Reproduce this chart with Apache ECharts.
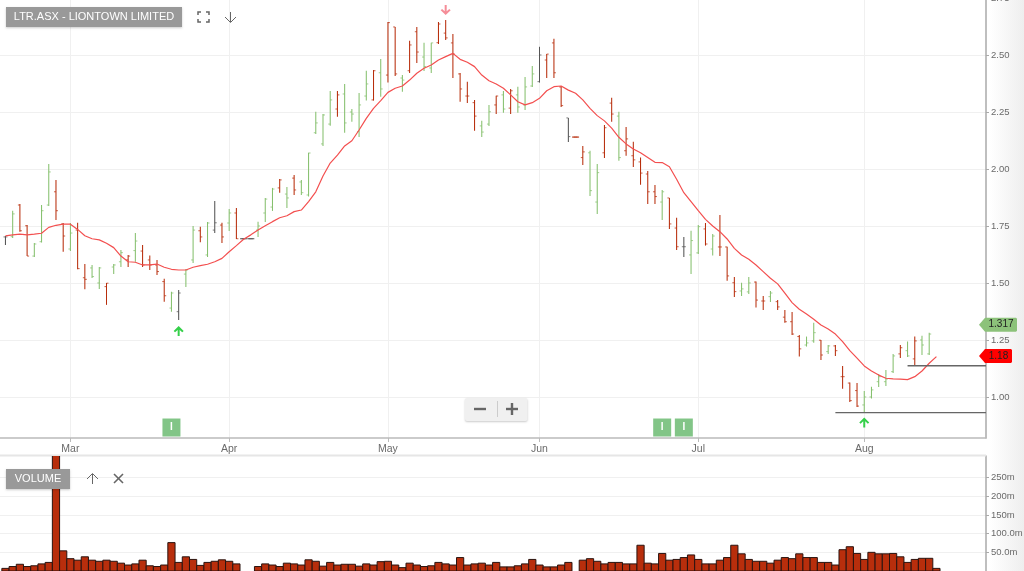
<!DOCTYPE html>
<html><head><meta charset="utf-8">
<style>html,body{margin:0;padding:0;background:#fff;overflow:hidden}#c{width:1024px;height:571px}</style>
<script src="https://cdn.jsdelivr.net/npm/echarts@6/dist/echarts.min.js"></script>
</head><body><div id="c"></div>
<script>
const opens=[1.702,1.703,1.842,1.751,1.618,1.681,1.842,1.900,1.759,1.649,1.732,1.523,1.566,1.500,1.484,1.570,1.593,1.601,1.642,1.640,1.601,1.579,1.506,1.390,1.374,1.539,1.601,1.729,1.623,1.732,1.754,1.763,1.807,1.694,1.694,1.732,1.807,1.833,1.917,1.890,1.960,1.943,1.886,2.159,2.110,2.197,2.263,2.329,2.250,2.164,2.320,2.303,2.422,2.412,2.623,2.399,2.431,2.602,2.491,2.443,2.554,2.596,2.553,2.417,2.320,2.291,2.189,2.197,2.281,2.325,2.267,2.325,2.281,2.364,2.383,2.478,2.553,2.360,2.224,2.140,2.050,2.071,1.855,2.071,2.289,2.232,2.080,2.058,2.031,1.978,1.900,1.855,1.873,1.741,1.659,1.623,1.632,1.737,1.649,1.658,1.658,1.501,1.465,1.461,1.504,1.421,1.440,1.418,1.350,1.330,1.265,1.228,1.246,1.249,1.199,1.224,1.089,1.061,1.028,0.965,1.000,1.067,1.067,1.111,1.189,1.203,1.167,1.250,1.189,1.291];
const highs=[1.706,1.817,1.846,1.754,1.675,1.842,2.022,1.952,1.763,1.763,1.764,1.583,1.579,1.570,1.500,1.583,1.645,1.623,1.719,1.667,1.620,1.601,1.519,1.462,1.469,1.561,1.750,1.747,1.768,1.860,1.764,1.825,1.829,1.694,1.694,1.769,1.873,1.917,1.956,1.921,1.974,1.952,2.071,2.251,2.241,2.342,2.342,2.373,2.263,2.333,2.431,2.434,2.482,2.645,2.623,2.412,2.563,2.623,2.554,2.554,2.645,2.653,2.592,2.421,2.383,2.303,2.212,2.281,2.321,2.342,2.351,2.361,2.403,2.452,2.536,2.504,2.571,2.364,2.224,2.140,2.101,2.080,2.022,2.193,2.313,2.251,2.184,2.120,2.050,1.991,1.930,1.908,1.873,1.786,1.702,1.729,1.754,1.763,1.715,1.798,1.659,1.526,1.501,1.526,1.506,1.443,1.465,1.425,1.382,1.373,1.272,1.265,1.325,1.250,1.228,1.228,1.136,1.063,1.061,1.026,1.045,1.101,1.118,1.189,1.228,1.243,1.265,1.268,1.282,1.325];
const lows=[1.667,1.697,1.725,1.618,1.614,1.677,1.838,1.776,1.637,1.640,1.560,1.472,1.522,1.474,1.404,1.539,1.570,1.570,1.593,1.570,1.557,1.535,1.418,1.374,1.338,1.482,1.588,1.679,1.614,1.719,1.675,1.728,1.693,1.694,1.694,1.702,1.768,1.816,1.896,1.829,1.886,1.886,1.879,2.154,2.101,2.190,2.229,2.159,2.207,2.140,2.300,2.300,2.317,2.379,2.408,2.339,2.421,2.465,2.430,2.421,2.548,2.566,2.399,2.295,2.289,2.168,2.140,2.189,2.241,2.247,2.241,2.247,2.259,2.360,2.379,2.399,2.399,2.272,2.118,2.140,2.018,1.882,1.803,2.048,2.207,2.036,2.058,2.009,1.931,1.846,1.846,1.776,1.737,1.645,1.614,1.539,1.627,1.664,1.620,1.618,1.510,1.439,1.443,1.452,1.392,1.382,1.417,1.382,1.326,1.272,1.177,1.221,1.238,1.162,1.189,1.180,1.036,0.978,0.956,0.934,0.993,1.044,1.048,1.105,1.171,1.175,1.140,1.184,1.184,1.250];
const closes=[1.702,1.803,1.729,1.618,1.671,1.817,1.987,1.817,1.706,1.719,1.563,1.516,1.528,1.566,1.499,1.579,1.633,1.618,1.684,1.579,1.579,1.550,1.444,1.456,1.456,1.557,1.732,1.702,1.763,1.764,1.702,1.807,1.694,1.694,1.694,1.750,1.868,1.912,1.952,1.873,1.908,1.896,2.070,2.202,2.237,2.303,2.325,2.202,2.241,2.281,2.373,2.431,2.351,2.642,2.417,2.390,2.544,2.513,2.449,2.553,2.636,2.575,2.504,2.351,2.320,2.232,2.162,2.251,2.320,2.263,2.343,2.272,2.360,2.417,2.500,2.504,2.422,2.278,2.142,2.140,2.075,1.905,1.984,2.181,2.241,2.050,2.132,2.040,1.982,1.900,1.879,1.900,1.759,1.659,1.659,1.686,1.747,1.671,1.706,1.658,1.531,1.462,1.474,1.500,1.425,1.421,1.456,1.395,1.330,1.276,1.211,1.237,1.282,1.184,1.224,1.203,1.089,0.984,0.960,1.000,1.031,1.089,1.079,1.180,1.216,1.180,1.246,1.228,1.276,1.317];
const tones="kgrrgggrrgrrggrggrgrrrrgkggrgkrgrkkgggrgrgggggrggggrgrrgrrggrrrrrrggrgrgggkrrrkrrggrrgrrrrrgrrkggrgrrrggrrgrrrrggrgrrrrgggggrgrgg";
const movingAverage=[1.707,1.711,1.714,1.711,1.714,1.718,1.744,1.753,1.758,1.758,1.735,1.707,1.694,1.689,1.674,1.655,1.618,1.593,1.591,1.579,1.579,1.583,1.569,1.560,1.557,1.557,1.569,1.576,1.582,1.593,1.608,1.637,1.664,1.692,1.711,1.732,1.751,1.769,1.786,1.795,1.813,1.820,1.857,1.900,1.969,2.026,2.061,2.101,2.124,2.171,2.222,2.266,2.300,2.336,2.354,2.364,2.390,2.420,2.442,2.456,2.478,2.493,2.507,2.481,2.468,2.449,2.412,2.387,2.373,2.354,2.325,2.295,2.281,2.291,2.310,2.343,2.361,2.364,2.346,2.332,2.303,2.266,2.234,2.211,2.179,2.139,2.110,2.088,2.071,2.050,2.029,2.028,2.010,1.955,1.896,1.857,1.817,1.779,1.750,1.725,1.693,1.652,1.623,1.604,1.579,1.550,1.521,1.496,1.455,1.414,1.385,1.364,1.341,1.316,1.298,1.276,1.243,1.203,1.170,1.136,1.114,1.096,1.082,1.079,1.078,1.076,1.089,1.114,1.148,1.177];
const volumes=[7,12,18,12,14,19,23,340,54,33,29,38,29,26,29,26,21,16,19,29,14,12,16,76,23,38,31,15,23,26,30,26,19,null,null,12,19,16,12,21,19,16,30,26,13,23,16,18,18,13,19,16,25,26,16,9,21,16,12,14,23,19,16,36,16,19,21,16,23,11,11,14,19,31,16,11,11,16,23,null,29,33,26,19,23,23,19,19,69,21,19,47,29,31,36,43,31,19,19,29,36,69,46,31,26,26,21,29,36,33,46,36,36,23,23,16,57,65,47,31,50,46,46,47,38,23,31,34,34,7];
const monthNames=['Mar','Apr','May','Jun','Jul','Aug'];
const monthBars=[9,31,53,74,96,119];
const priceTicks=[1,1.25,1.5,1.75,2,2.25,2.5,2.75];
const volumeTicks=[50,100,150,200,250];
const volumeTickLabels=['50.0m','100.0m','150m','200m','250m'];
const supports=[[115,0.931],[125,1.137]];
const upArrows=[[24,1.289],[119,0.888]];
const downArrows=[[61,2.697]];
const insiderBars=[23,91,94];
const insiderLevel=0.866;
const lastPrice=1.317, stopPrice=1.18;

const xMin=-0.7565, xMax=135.87;
const colors={g:'#86c06e',r:'#b82e0c',k:'#555555'};
const textGray='#6a6a6a';
const labelFont='"Liberation Sans",Arial,sans-serif';
const ohlc=opens.map((o,i)=>[i,o,highs[i],lows[i],closes[i],tones[i]]);
const volumeData=volumes.map((v,i)=>[i,v]).filter(d=>d[1]!==null);
const arrowUp='path://M5 0 L10 5.4 L8.6 6.8 L6 4.2 L6 11 L4 11 L4 4.2 L1.4 6.8 L0 5.4 Z';
const arrowDown='path://M5 11 L10 5.6 L8.6 4.2 L6 6.8 L6 0 L4 0 L4 6.8 L1.4 4.2 L0 5.6 Z';

function priceTag(value,text,color,w){
  return {type:'custom',xAxisIndex:0,yAxisIndex:0,clip:false,silent:true,z:20,data:[[xMax,value]],
    renderItem:(p,api)=>{
      const y=api.coord([api.value(0),api.value(1)])[1], x=979;
      return {type:'group',children:[
        {type:'polygon',shape:{points:[[x,y],[x+6,y-7],[x+w-1,y-7],[x+w,y-6],[x+w,y+6],[x+w-1,y+7],[x+6,y+7]]},style:{fill:color}},
        {type:'text',style:{x:x+6+(w-6)/2,y:y,text:text,align:'center',verticalAlign:'middle',fill:'#222',font:'10px '+labelFont}}
      ]};
    }};
}
function stroke(points,color,w){return {type:'polyline',silent:true,z:30,shape:{points:points},style:{stroke:color,fill:null,lineWidth:w||1}};}

const option={
  animation:false,backgroundColor:'#fff',
  grid:[{left:0,top:-2,width:986,height:440,outerBoundsMode:'none',containLabel:false},{left:0,top:456,width:986,height:115,outerBoundsMode:'none',containLabel:false}],
  xAxis:[
    {type:'value',gridIndex:0,min:xMin,max:xMax,
     axisLine:{show:true,onZero:false,lineStyle:{color:'#bbbbbb',width:1.5}},
     axisTick:{show:true,length:4,customValues:monthBars,lineStyle:{color:'#bbbbbb'}},
     axisLabel:{show:true,customValues:monthBars,margin:6,fontSize:10.5,color:textGray,fontFamily:labelFont,formatter:v=>monthNames[monthBars.indexOf(v)]||''},
     splitLine:{show:true,lineStyle:{color:'#f0f0f0'}}},
    {type:'value',gridIndex:1,min:xMin,max:xMax,axisLine:{show:false,onZero:false},axisTick:{show:false},axisLabel:{show:false},splitLine:{show:false}}
  ],
  yAxis:[
    {type:'value',gridIndex:0,position:'right',min:0.82,max:2.75,
     axisLine:{show:true,onZero:false,lineStyle:{color:'#aaaaaa',width:1.5}},
     axisTick:{show:true,length:3,customValues:priceTicks,lineStyle:{color:'#aaaaaa'}},
     axisLabel:{show:true,customValues:priceTicks,margin:5,fontSize:9.5,color:textGray,fontFamily:labelFont,formatter:v=>v.toFixed(2)},
     splitLine:{show:true,lineStyle:{color:'#f0f0f0'}}},
    {type:'value',gridIndex:1,position:'right',min:0,max:308,
     axisLine:{show:true,onZero:false,lineStyle:{color:'#aaaaaa',width:1.5}},
     axisTick:{show:true,length:3,customValues:volumeTicks,lineStyle:{color:'#aaaaaa'}},
     axisLabel:{show:true,customValues:volumeTicks,margin:5,fontSize:9.5,color:textGray,fontFamily:labelFont,formatter:v=>volumeTickLabels[volumeTicks.indexOf(v)]||''},
     splitLine:{show:true,lineStyle:{color:'#f0f0f0'}}}
  ],
  series:[
    {type:'custom',xAxisIndex:0,yAxisIndex:0,data:ohlc,z:5,silent:true,
     encode:{x:0,y:[1,2,3,4]},
     renderItem:(p,api)=>{
       const i=api.value(0);
       const [x,yO]=api.coord([i,api.value(1)]);
       const yH=api.coord([i,api.value(2)])[1], yL=api.coord([i,api.value(3)])[1], yC=api.coord([i,api.value(4)])[1];
       const color=colors[ohlc[i][5]];
       const st={stroke:color,lineWidth:1.05,fill:null};
       const tk={stroke:color,lineWidth:1,fill:null,opacity:0.75};
       const flat=Math.abs(yH-yL)<0.5;
       return {type:'group',children:[
         flat?{type:'line',shape:{x1:x-3.5,y1:yO,x2:x+3.5,y2:yO},style:st}:{type:'line',shape:{x1:x,y1:yH,x2:x,y2:yL},style:st},
         {type:'line',shape:{x1:x-2,y1:yO,x2:x,y2:yO},style:tk},
         {type:'line',shape:{x1:x,y1:yC,x2:x+2,y2:yC},style:tk}
       ]};
     }},
    {type:'line',xAxisIndex:0,yAxisIndex:0,data:movingAverage.map((v,i)=>[i,v]),showSymbol:false,symbol:'none',z:6,silent:true,lineStyle:{color:'#f34f4f',width:1.2}},
    ...supports.map(s=>({type:'line',xAxisIndex:0,yAxisIndex:0,data:[s,[xMax,s[1]]],symbol:'none',z:7,silent:true,lineStyle:{color:'#666666',width:1.3}})),
    {type:'scatter',xAxisIndex:0,yAxisIndex:0,data:upArrows,symbol:arrowUp,symbolSize:[10,10],itemStyle:{color:'#35d04a',opacity:1},z:8,silent:true},
    {type:'scatter',xAxisIndex:0,yAxisIndex:0,data:downArrows,symbol:arrowDown,symbolSize:[10,10],itemStyle:{color:'#f58d98',opacity:1},z:8,silent:true},
    {type:'scatter',xAxisIndex:0,yAxisIndex:0,data:insiderBars.map(i=>[i,insiderLevel]),symbol:'rect',symbolSize:[18,18],itemStyle:{color:'#82c587',opacity:1},z:8,silent:true,
     label:{show:true,position:'inside',formatter:'I',color:'#fff',fontSize:10,fontWeight:'bold',fontFamily:labelFont}},
    priceTag(lastPrice,'1.317','#8cc27a',38),
    priceTag(stopPrice,'1.18','#ff0000',33),
    {type:'custom',xAxisIndex:1,yAxisIndex:1,data:volumeData,z:5,silent:true,clip:true,encode:{x:0,y:1},
     renderItem:(p,api)=>{
       const a=api.coord([api.value(0),api.value(1)]), b=api.coord([api.value(0),0]);
       const s=api.size([1,0])[0];
       return {type:'rect',shape:{x:a[0]-s/2,y:a[1],width:s,height:b[1]-a[1]},style:{fill:'#b82e0c',stroke:'#2a1410',lineWidth:1}};
     }}
  ],
  graphic:[
    {type:'rect',silent:true,z:-100,shape:{x:990,y:0,width:34,height:571},style:{fill:new echarts.graphic.LinearGradient(0,0,1,0,[{offset:0,color:'#ffffff'},{offset:1,color:'#eeeeee'}])}},
    {type:'rect',silent:true,z:2,shape:{x:0,y:454.5,width:986,height:2},style:{fill:'#e6e6e6'}},
    {type:'rect',silent:true,z:30,shape:{x:6,y:7,width:176,height:20},style:{fill:'#999999',shadowBlur:2,shadowColor:'rgba(0,0,0,.2)',shadowOffsetY:1}},
    {type:'text',silent:true,z:31,style:{x:94,y:17,text:'LTR.ASX - LIONTOWN LIMITED',align:'center',verticalAlign:'middle',fill:'#fff',font:'11px '+labelFont}},
    stroke([[198,15],[198,12],[201,12]],'#666',1.5),stroke([[206,12],[209,12],[209,15]],'#666',1.5),
    stroke([[198,19],[198,22],[201,22]],'#666',1.5),stroke([[206,22],[209,22],[209,19]],'#666',1.5),
    stroke([[230.5,12],[230.5,22]],'#666',1),stroke([[225,17],[230.5,22.5],[236,17]],'#666',1),
    {type:'rect',silent:true,z:30,shape:{x:6,y:469,width:64,height:20},style:{fill:'#999999',shadowBlur:2,shadowColor:'rgba(0,0,0,.2)',shadowOffsetY:1}},
    {type:'text',silent:true,z:31,style:{x:38,y:479,text:'VOLUME',align:'center',verticalAlign:'middle',fill:'#fff',font:'11px '+labelFont}},
    stroke([[92.5,484],[92.5,474]],'#666',1),stroke([[87,479],[92.5,473.5],[98,479]],'#666',1),
    stroke([[114,474],[123,483]],'#666',1.6),stroke([[123,474],[114,483]],'#666',1.6),
    {type:'rect',silent:true,z:30,shape:{x:465,y:398,width:62.5,height:23,r:2},style:{fill:'#f0f0f0',shadowBlur:2,shadowColor:'rgba(0,0,0,.2)',shadowOffsetY:1}},
    stroke([[474,409],[486,409]],'#666',2.4),
    stroke([[506,409],[518,409]],'#666',2.4),stroke([[512,403],[512,415]],'#666',2.4),
    stroke([[497.5,401],[497.5,417]],'#cccccc',1)
  ]
};
echarts.init(document.getElementById('c')).setOption(option);
</script></body></html>
